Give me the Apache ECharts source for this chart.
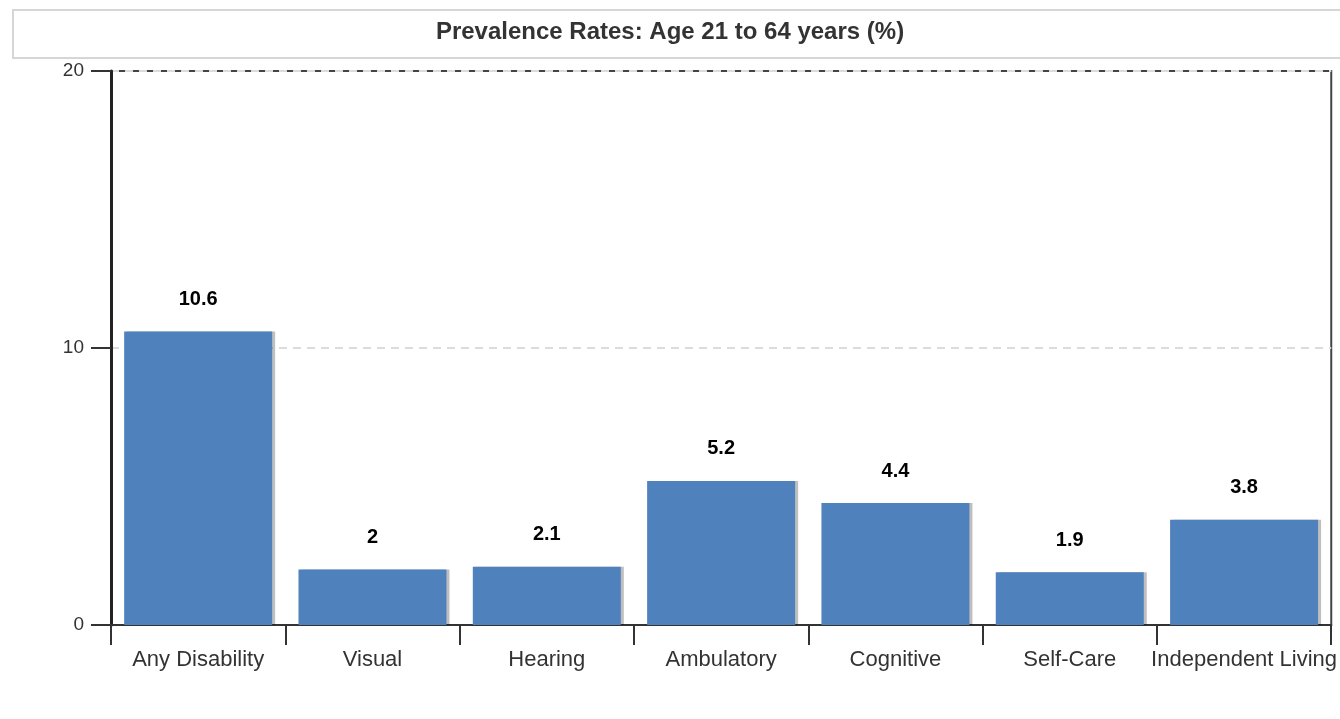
<!DOCTYPE html>
<html>
<head>
<meta charset="utf-8">
<script src="https://cdn.jsdelivr.net/npm/echarts@6/dist/echarts.min.js"></script>
<style>
  html, body { margin: 0; padding: 0; background: #fff; }
  #chart { width: 1340px; height: 719px; }
</style>
</head>
<body>
<div id="chart"></div>
<script>
const titleText = 'Prevalence Rates: Age 21 to 64 years (%)'
const categories = ['Any Disability', 'Visual', 'Hearing', 'Ambulatory', 'Cognitive', 'Self-Care', 'Independent Living']
const rates = [10.6, 2, 2.1, 5.2, 4.4, 1.9, 3.8]
const yTicks = [0, 10, 20]

const font = "'Liberation Sans', Arial, sans-serif"
const chart = echarts.init(document.getElementById('chart'))

const option = {
  animation: false,
  graphic: [
    // title box
    {
      type: 'rect',
      left: 12,
      top: 9,
      shape: { width: 1340, height: 48 },
      style: { fill: '#fff', stroke: '#d6d6d6', lineWidth: 2 }
    },
    {
      type: 'text',
      left: 'center',
      top: 20,
      style: {
        text: titleText,
        fill: '#333',
        font: 'bold 24px ' + font
      }
    }
  ],
  grid: {
    left: 111,
    right: 8,
    top: 71,
    bottom: 94,
    show: true,
    borderColor: '#444',
    borderWidth: 2
  },
  xAxis: {
    type: 'category',
    data: categories,
    axisLine: { lineStyle: { color: '#333', width: 2 } },
    axisTick: { show: true, length: 20, lineStyle: { color: '#333', width: 2 } },
    axisLabel: {
      margin: 24,
      color: '#333',
      fontSize: 22,
      fontFamily: font,
      interval: 0
    }
  },
  yAxis: {
    type: 'value',
    min: yTicks[0],
    max: yTicks[yTicks.length - 1],
    interval: 10,
    axisLine: { show: true, lineStyle: { color: '#222', width: 3 } },
    axisTick: { show: true, length: 20, lineStyle: { color: '#333', width: 2 } },
    axisLabel: {
      margin: 27,
      color: '#333',
      fontSize: 19,
      fontFamily: font
    },
    splitLine: {
      show: true,
      lineStyle: { color: '#dcdcdc', type: [8, 6], width: 2 }
    }
  },
  series: [
    {
      type: 'bar',
      data: rates,
      barWidth: 148,
      itemStyle: {
        color: '#4f81bd',
        shadowColor: 'rgba(0,0,0,0.25)',
        shadowOffsetX: 3,
        shadowOffsetY: 0,
        shadowBlur: 0
      },
      label: {
        show: true,
        position: 'top',
        distance: 22,
        color: '#000',
        fontSize: 20,
        fontWeight: 'bold',
        fontFamily: font
      }
    }
  ]
}

chart.setOption(option)
</script>
</body>
</html>
